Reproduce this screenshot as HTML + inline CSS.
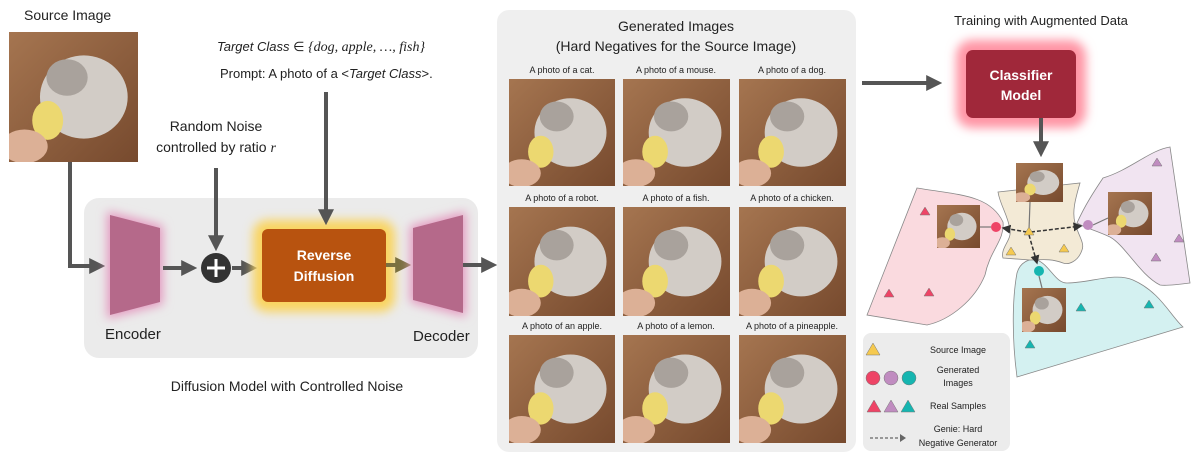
<!DOCTYPE html>
<html><head><meta charset="utf-8"><style>
body{margin:0;background:#fff}
svg{display:block}
text{font-family:"Liberation Sans",sans-serif;fill:#222}
</style></head><body>
<svg width="1191" height="453" viewBox="0 0 1191 453" xmlns="http://www.w3.org/2000/svg">
<defs>
<filter id="glow" x="-40%" y="-40%" width="180%" height="180%"><feGaussianBlur stdDeviation="5"/></filter>
<linearGradient id="ph" x1="0" y1="0" x2="1" y2="1"><stop offset="0" stop-color="#a57550"/><stop offset="1" stop-color="#774a2e"/></linearGradient>
<symbol id="photo" viewBox="0 0 100 100" preserveAspectRatio="none">
<rect width="100" height="100" fill="url(#ph)"/>
<ellipse cx="58" cy="50" rx="34" ry="32" fill="#d2ccc6"/>
<ellipse cx="45" cy="35" rx="16" ry="14" fill="#a9a29c"/>
<ellipse cx="30" cy="68" rx="12" ry="15" fill="#ecd870"/>
<ellipse cx="12" cy="88" rx="18" ry="13" fill="#dcb096"/>
</symbol>
<marker id="ah" markerWidth="4" markerHeight="4" refX="2.2" refY="2" orient="auto"><path d="M0,0 L4,2 L0,4Z" fill="#555"/></marker>
<marker id="aho" markerWidth="4" markerHeight="4" refX="2.2" refY="2" orient="auto"><path d="M0,0 L4,2 L0,4Z" fill="#7a7040"/></marker>
<marker id="ahs" markerWidth="6" markerHeight="6" refX="5" refY="3" orient="auto"><path d="M0,0 L6,3 L0,6Z" fill="#333"/></marker>
</defs>

<!-- left -->
<text x="24" y="20" font-size="14">Source Image</text>
<use href="#photo" x="9" y="32" width="129" height="130"/>
<rect x="84" y="198" width="394" height="160" rx="15" fill="#ebebeb"/>
<polyline points="70,162 70,266 98,266" fill="none" stroke="#555" stroke-width="4" marker-end="url(#ah)"/>
<polygon points="110,215 160,228 160,302 110,315" fill="#e49ac0" stroke="#e49ac0" stroke-width="6" filter="url(#glow)"/>
<polygon points="110,215 160,228 160,302 110,315" fill="#b5698a"/>
<text x="105" y="339" font-size="15">Encoder</text>
<line x1="163" y1="268" x2="190" y2="268" stroke="#555" stroke-width="4" marker-end="url(#ah)"/>
<circle cx="216" cy="268" r="15" fill="#333"/>
<path d="M216,259v18M207,268h18" stroke="#fff" stroke-width="3"/>
<text x="216" y="131" font-size="14" text-anchor="middle">Random Noise</text>
<text x="216" y="152" font-size="14" text-anchor="middle">controlled by ratio <tspan font-style="italic" font-family="Liberation Serif">r</tspan></text>
<line x1="216" y1="168" x2="216" y2="244" stroke="#555" stroke-width="4" marker-end="url(#ah)"/>
<line x1="232" y1="268" x2="250" y2="268" stroke="#555" stroke-width="4" marker-end="url(#ah)"/>
<rect x="253" y="220" width="142" height="92" rx="14" fill="#f9d460" filter="url(#glow)"/>
<rect x="262" y="229" width="124" height="73" rx="6" fill="#b8530f"/>
<text x="324" y="260" font-size="14" font-weight="bold" text-anchor="middle" style="fill:#fff">Reverse</text>
<text x="324" y="281" font-size="14" font-weight="bold" text-anchor="middle" style="fill:#fff">Diffusion</text>
<text x="217" y="51" font-size="13"><tspan font-style="italic">Target Class</tspan> ∈ <tspan font-family="Liberation Serif" font-style="italic" font-size="14">{dog, apple, …, fish}</tspan></text>
<text x="220" y="78" font-size="13">Prompt: A photo of a &lt;<tspan font-style="italic">Target Class</tspan>&gt;.</text>
<line x1="326" y1="92" x2="326" y2="218" stroke="#555" stroke-width="4" marker-end="url(#ah)"/>
<line x1="386" y1="265" x2="404" y2="265" stroke="#7a7040" stroke-width="4" marker-end="url(#aho)"/>
<polygon points="413,228 463,215 463,313 413,300" fill="#e49ac0" stroke="#e49ac0" stroke-width="6" filter="url(#glow)"/>
<polygon points="413,228 463,215 463,313 413,300" fill="#b5698a"/>
<text x="413" y="341" font-size="15">Decoder</text>
<line x1="463" y1="265" x2="490" y2="265" stroke="#555" stroke-width="4" marker-end="url(#ah)"/>
<text x="287" y="391" font-size="14" text-anchor="middle">Diffusion Model with Controlled Noise</text>

<!-- generated panel -->
<rect x="497" y="10" width="359" height="442" rx="12" fill="#efefef"/>
<text x="676" y="31" font-size="14" text-anchor="middle">Generated Images</text>
<text x="676" y="51" font-size="14" text-anchor="middle">(Hard Negatives for the Source Image)</text>
<g font-size="9" text-anchor="middle">
<text x="562" y="73">A photo of a cat.</text><text x="676" y="73">A photo of a mouse.</text><text x="792" y="73">A photo of a dog.</text>
<text x="562" y="201">A photo of a robot.</text><text x="676" y="201">A photo of a fish.</text><text x="792" y="201">A photo of a chicken.</text>
<text x="562" y="329">A photo of an apple.</text><text x="676" y="329">A photo of a lemon.</text><text x="792" y="329">A photo of a pineapple.</text>
</g>
<use href="#photo" x="509" y="79" width="106" height="107"/><use href="#photo" x="623" y="79" width="107" height="107"/><use href="#photo" x="739" y="79" width="107" height="107"/>
<use href="#photo" x="509" y="207" width="106" height="109"/><use href="#photo" x="623" y="207" width="107" height="109"/><use href="#photo" x="739" y="207" width="107" height="109"/>
<use href="#photo" x="509" y="335" width="106" height="108"/><use href="#photo" x="623" y="335" width="107" height="108"/><use href="#photo" x="739" y="335" width="107" height="108"/>

<!-- right -->
<line x1="862" y1="83" x2="935" y2="83" stroke="#555" stroke-width="4" marker-end="url(#ah)"/>
<text x="1041" y="25" font-size="13" text-anchor="middle">Training with Augmented Data</text>
<rect x="956" y="40" width="130" height="88" rx="16" fill="#ff94a4" filter="url(#glow)"/>
<rect x="966" y="50" width="110" height="68" rx="7" fill="#a0283a"/>
<text x="1021" y="80" font-size="14" font-weight="bold" text-anchor="middle" style="fill:#fff">Classifier</text>
<text x="1021" y="100" font-size="14" font-weight="bold" text-anchor="middle" style="fill:#fff">Model</text>
<line x1="1041" y1="118" x2="1041" y2="150" stroke="#555" stroke-width="4" marker-end="url(#ah)"/>

<g stroke="#888" stroke-width="0.8">
<path d="M917,188 C960,195 990,195 1003,222 C1005,240 990,250 985,275 C975,300 950,320 927,325 L867,315 Z" fill="#fadadf"/>
<path d="M1103,178 C1130,170 1150,150 1170,147 L1190,283 C1175,285 1165,286 1160,285 C1140,275 1125,245 1110,237 C1095,230 1085,228 1077,223 C1085,205 1095,190 1103,178Z" fill="#f1e4f1"/>
<path d="M1017,273 C1020,262 1030,258 1037,260 C1050,265 1055,283 1067,283 C1090,283 1115,272 1133,280 C1160,292 1170,315 1183,327 L1017,377 C1012,340 1012,300 1017,273Z" fill="#d4f1f1"/>
<path d="M998,192 L1080,183 C1075,200 1072,212 1075,223 C1078,235 1085,243 1082,250 C1078,262 1068,265 1063,263 C1050,258 1040,260 1030,260 L1003,258 C1000,248 1012,240 1010,230 C1008,215 1000,205 998,192Z" fill="#f3ead6"/>
</g>
<use href="#photo" x="1016" y="163" width="47" height="39"/>
<use href="#photo" x="937" y="205" width="43" height="43"/>
<use href="#photo" x="1108" y="192" width="44" height="43"/>
<use href="#photo" x="1022" y="288" width="44" height="44"/>
<g stroke="#777" stroke-width="1.2">
<line x1="1030" y1="202" x2="1029" y2="230"/><line x1="980" y1="227" x2="991" y2="227"/>
<line x1="1093" y1="225" x2="1108" y2="218"/><line x1="1039" y1="276" x2="1042" y2="288"/>
</g>
<g stroke="#333" stroke-width="1.5" stroke-dasharray="4,2" fill="none">
<line x1="1027" y1="232" x2="1003" y2="228" marker-end="url(#ahs)"/>
<line x1="1031" y1="232" x2="1081" y2="226" marker-end="url(#ahs)"/>
<line x1="1029" y1="235" x2="1037" y2="263" marker-end="url(#ahs)"/>
</g>
<circle cx="996" cy="227" r="5" fill="#ee4466"/><circle cx="1088" cy="225" r="5" fill="#c08cc0"/><circle cx="1039" cy="271" r="5" fill="#16b5b0"/>
<g stroke="#777" stroke-width="0.5">
<path d="M1029,227 l-5,8 h10z" fill="#f5c94f"/>
<path d="M1011,247 l-5,8 h10z" fill="#f5c94f"/><path d="M1064,244 l-5,8 h10z" fill="#f5c94f"/>
<path d="M925,207 l-5,8 h10z" fill="#ee4466"/><path d="M889,289 l-5,8 h10z" fill="#ee4466"/><path d="M929,288 l-5,8 h10z" fill="#ee4466"/>
<path d="M1157,158 l-5,8 h10z" fill="#c08cc0"/><path d="M1179,234 l-5,8 h10z" fill="#c08cc0"/><path d="M1156,253 l-5,8 h10z" fill="#c08cc0"/>
<path d="M1081,303 l-5,8 h10z" fill="#16b5b0"/><path d="M1149,300 l-5,8 h10z" fill="#16b5b0"/><path d="M1030,340 l-5,8 h10z" fill="#16b5b0"/>
</g>

<!-- legend -->
<rect x="863" y="333" width="147" height="118" rx="8" fill="#ececec"/>
<g stroke="#777" stroke-width="0.5">
<path d="M873,343 l-7,12 h14z" fill="#f5c94f"/>
<circle cx="873" cy="378" r="7" fill="#ee4466"/><circle cx="891" cy="378" r="7" fill="#c08cc0"/><circle cx="909" cy="378" r="7" fill="#16b5b0"/>
<path d="M874,400 l-7,12 h14z" fill="#ee4466"/><path d="M891,400 l-7,12 h14z" fill="#c08cc0"/><path d="M908,400 l-7,12 h14z" fill="#16b5b0"/>
</g>
<line x1="870" y1="438" x2="900" y2="438" stroke="#666" stroke-width="1.2" stroke-dasharray="3,2"/>
<path d="M900,434 l6,4 l-6,4z" fill="#666"/>
<g font-size="9" text-anchor="middle">
<text x="958" y="353">Source Image</text>
<text x="958" y="373">Generated</text><text x="958" y="386">Images</text>
<text x="958" y="409">Real Samples</text>
<text x="958" y="432">Genie: Hard</text><text x="958" y="446">Negative Generator</text>
</g>
</svg>
</body></html>
